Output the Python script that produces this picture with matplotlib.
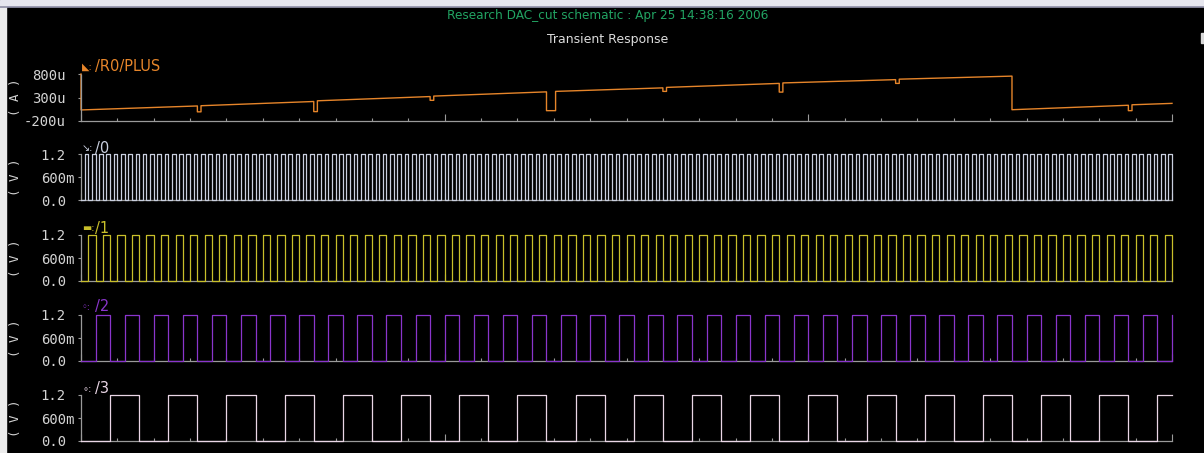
import numpy as np
import matplotlib
matplotlib.use("Agg")
import matplotlib.pyplot as plt
from matplotlib.patches import Rectangle
from matplotlib.lines import Line2D
from matplotlib.ticker import MultipleLocator

W, H = 1204, 453

# ---- simulation data -------------------------------------------------------
t_stop_ns = 300          # transient stop time
counter_step_ns = 1      # the counter advances once per ns

# counter output bits shown in the lower panels
bit_names = ["/0", "/1", "/2", "/3"]
bit_index = [0, 1, 2, 3]
bit_high_v = 1.2
bit_colors = ["#c9cfdf", "#c8bf2a", "#8a35cc", "#ead6e6"]
bit_markers = ["\u2198", "\u25ac", "\u25e6", "\u2218"]

# DAC output current /R0/PLUS (time in ns, current in uA)
current_t_ns = [0, 0, 32, 32, 33, 33, 64, 64, 65, 65, 96, 96, 97, 97,
                128, 128, 130.5, 130.5, 160, 160, 161, 161, 192, 192, 193, 193,
                224, 224, 225, 225, 256, 256, 288, 288, 289, 289, 300]
current_ua = [800, 35, 120, -5, -5, 125, 215, 0, 0, 230, 320, 240, 240, 330,
              420, 20, 20, 430, 505, 430, 430, 515, 600, 415, 415, 610,
              680, 600, 600, 690, 755, 40, 135, 20, 20, 145, 175]
current_color = "#e6852a"

current_ticks = [-200, 300, 800]
current_tick_labels = ["-200u", "300u", "800u"]
volt_ticks = [0.0, 0.6, 1.2]
volt_tick_labels = ["0.0", "600m", "1.2"]

title_text = "Research DAC_cut schematic : Apr 25 14:38:16 2006"
subtitle_text = "Transient Response"

# ---- figure ---------------------------------------------------------------
fig = plt.figure(figsize=(W / 100, H / 100), dpi=100, facecolor="black")

# window frame: light header strip and left border
fig.patches.append(Rectangle((0, 1 - 6 / H), 1, 6 / H, transform=fig.transFigure,
                             color="#e6e6ee", zorder=0))
fig.lines.append(Line2D([0, 1], [1 - 6.5 / H, 1 - 6.5 / H], transform=fig.transFigure,
                        color="#8e8ea6", lw=1.2))
fig.patches.append(Rectangle((0, 0), 6 / W, 1 - 6 / H, transform=fig.transFigure,
                             color="#ececec", zorder=0))
fig.patches.append(Rectangle((1201 / W, 1 - 43 / H), 3 / W, 10 / H,
                             transform=fig.transFigure, color="#d8d8d8", zorder=0))

fig.text(608 / W, 1 - 15 / H, title_text, color="#22a463", fontsize=8.7,
         ha="center", va="center", family="DejaVu Sans")
fig.text(608 / W, 1 - 40 / H, subtitle_text, color="#dcdcdc", fontsize=9,
         ha="center", va="center", family="DejaVu Sans")

X0, X1 = 81, 1172
axis_gray = "#9a9a9a"
label_gray = "#d4d4d4"
mono = "DejaVu Sans Mono"


def make_axes(top, bottom):
    ax = fig.add_axes([X0 / W, 1 - bottom / H, (X1 - X0) / W, (bottom - top) / H])
    ax.set_facecolor("none")
    for side in ("top", "right"):
        ax.spines[side].set_visible(False)
    ax.spines["bottom"].set_color(axis_gray)
    ax.spines["left"].set_color(axis_gray)
    ax.spines["left"].set_linestyle((0, (1, 1)))
    ax.spines["bottom"].set_linewidth(0.9)
    ax.spines["left"].set_linewidth(0.9)
    ax.set_xlim(0, t_stop_ns)
    ax.xaxis.set_major_locator(MultipleLocator(100))
    ax.xaxis.set_minor_locator(MultipleLocator(10))
    ax.tick_params(axis="x", which="major", direction="in", length=5,
                   color=axis_gray, labelbottom=False, width=0.8)
    ax.tick_params(axis="x", which="minor", direction="in", length=2.5,
                   color=axis_gray, width=0.8)
    return ax


def unit_label(y_center, unit):
    fig.text(15 / W, 1 - y_center / H, f"( {unit} )", rotation=90, color=label_gray,
             fontsize=9, ha="center", va="center", family=mono)


def trace_label(y_center, marker, name, color):
    fig.text(82 / W, 1 - y_center / H, marker + ":", color=color, fontsize=7,
             ha="left", va="center", family="DejaVu Sans")
    fig.text(95 / W, 1 - y_center / H, name, color=color, fontsize=10.5,
             ha="left", va="center", family="DejaVu Sans")


# ---- current panel --------------------------------------------------------
ax = make_axes(74, 121)
ax.set_ylim(-200, 800)
ax.plot(current_t_ns, current_ua, color=current_color, lw=1.0, clip_on=False)
ax.set_yticks(current_ticks, current_tick_labels)
ax.tick_params(axis="y", which="major", direction="out", length=2, color=axis_gray,
               labelcolor=label_gray, labelsize=10, pad=9)
for lbl in ax.get_yticklabels():
    lbl.set_family(mono)
unit_label(97, "A")
trace_label(67, "\u25e3", "/R0/PLUS", current_color)

# ---- digital bit panels ---------------------------------------------------
panel_rows = [(154, 200), (235, 281), (315, 361), (395, 441)]
name_rows = [148, 228, 307, 389]

steps = np.arange(0, t_stop_ns + counter_step_ns, counter_step_ns)
count = (steps // counter_step_ns).astype(int)

for (top, bottom), ny, name, bit, color, mk in zip(panel_rows, name_rows, bit_names,
                                                    bit_index, bit_colors, bit_markers):
    ax = make_axes(top, bottom)
    ax.set_ylim(0, bit_high_v)
    level = ((count >> bit) & 1) * bit_high_v
    ax.plot(steps, level, drawstyle="steps-post", color=color, lw=0.9,
            clip_on=False, zorder=3)
    ax.set_yticks(volt_ticks, volt_tick_labels)
    ax.yaxis.set_minor_locator(MultipleLocator(0.1))
    ax.tick_params(axis="y", which="major", direction="out", length=2,
                   color=axis_gray, labelcolor=label_gray, labelsize=10, pad=27)
    ax.tick_params(axis="y", which="minor", length=0)
    for lbl in ax.get_yticklabels():
        lbl.set_family(mono)
        lbl.set_horizontalalignment("left")
    unit_label((top + bottom) / 2, "V")
    trace_label(ny, mk, name, color)

fig.savefig("out.png", dpi=100, facecolor="black")
